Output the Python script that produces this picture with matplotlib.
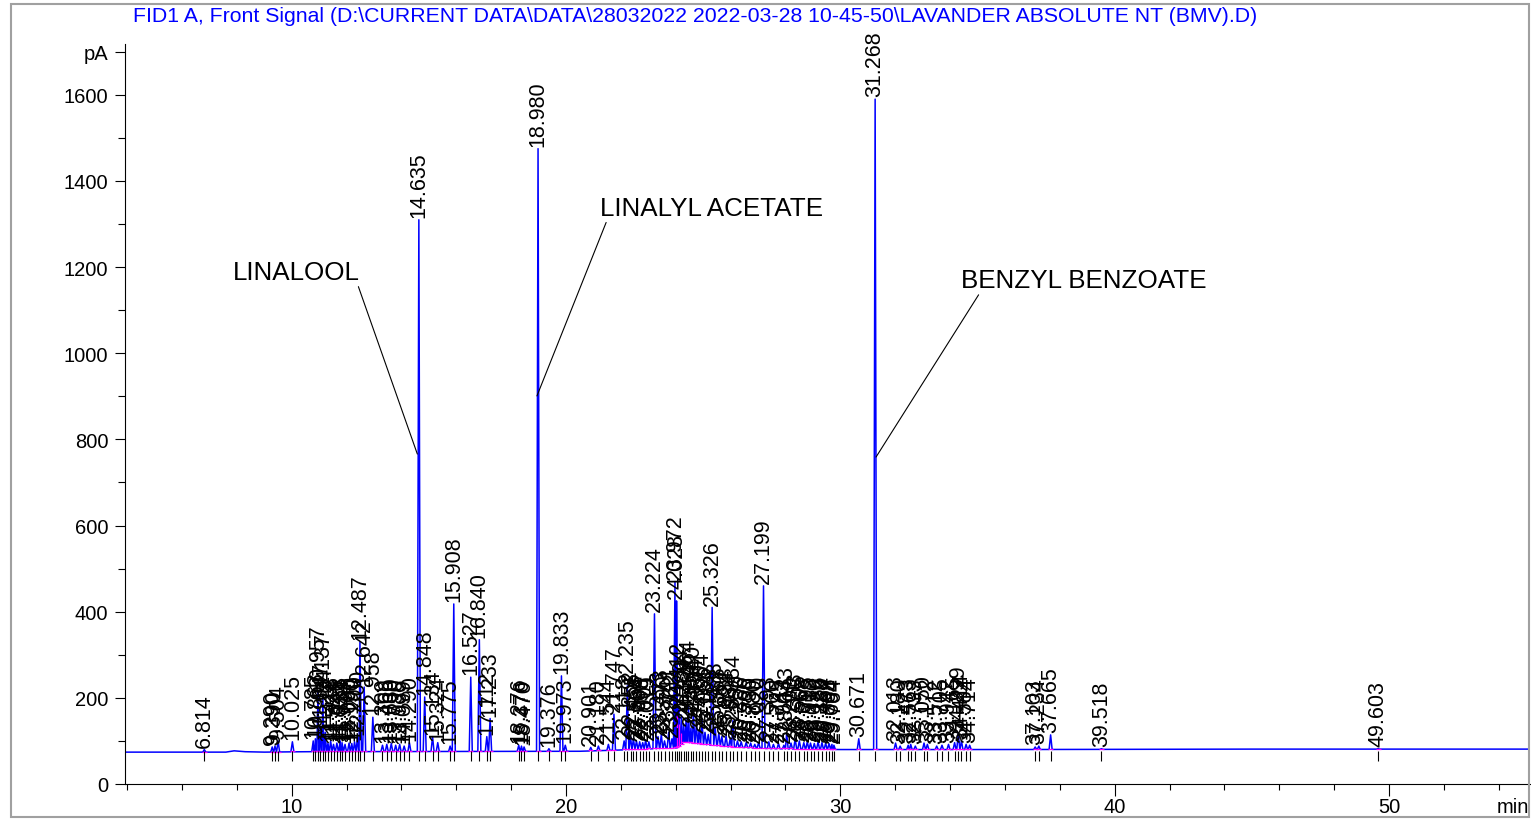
import matplotlib
matplotlib.use('Agg')
import matplotlib.pyplot as plt
from matplotlib.patches import Rectangle
from matplotlib.ticker import MultipleLocator
import numpy as np

plt.rcParams['font.family'] = ['Liberation Sans', 'DejaVu Sans']

title = ('FID1 A, Front Signal (D:\\CURRENT DATA\\DATA\\28032022 2022-03-28 '
         '10-45-50\\LAVANDER ABSOLUTE NT (BMV).D)')

# peak retention times (min) as printed, and apex heights (pA)
rt_labels = ['6.814', '9.290', '9.390', '9.504', '10.025',
             '10.785', '10.863', '10.957', '11.047', '11.137', '11.224', '11.322',
             '11.418', '11.524', '11.646', '11.768', '11.834', '11.944', '12.090',
             '12.190', '12.290', '12.400', '12.487', '12.642', '12.958',
             '13.309', '13.466', '13.630', '13.790', '13.935', '14.099', '14.290',
             '14.635', '14.848', '15.134', '15.324', '15.775', '15.908',
             '16.527', '16.840', '17.112', '17.233',
             '18.276', '18.376', '18.470', '18.980', '19.376', '19.833', '19.973',
             '20.901', '21.180', '21.544', '21.747', '22.118', '22.235', '22.352',
             '22.455', '22.568', '22.684', '22.795', '22.901', '23.019', '23.224',
             '23.353', '23.473', '23.590', '23.741', '23.862', '23.972', '24.028',
             '24.112', '24.204', '24.286', '24.376', '24.464', '24.554', '24.640',
             '24.754', '24.850', '24.954', '25.066', '25.184', '25.326', '25.438',
             '25.568', '25.680', '25.834', '25.984', '26.084', '26.250', '26.386',
             '26.566', '26.730', '26.880', '27.020', '27.199', '27.393', '27.560',
             '27.745', '27.943', '28.043', '28.200', '28.353', '28.505', '28.668',
             '28.795', '28.912', '29.050', '29.188', '29.330', '29.464', '29.588',
             '29.694', '29.764',
             '30.671', '31.268',
             '32.013', '32.180', '32.473', '32.563', '32.733', '33.050', '33.172',
             '33.512', '33.705', '33.942', '34.165', '34.299', '34.414', '34.584',
             '34.714',
             '37.103', '37.234', '37.665', '39.518', '49.603']
heights = [80, 86, 88, 100, 98,
           100, 105, 215, 130, 200, 120, 95,
           100, 92, 95, 100, 96, 92, 95,
           94, 98, 110, 330, 225, 155,
           90, 92, 94, 90, 92, 88, 96,
           1310, 202, 110, 96, 88, 418,
           248, 335, 110, 152,
           90, 88, 86, 1475, 82, 251, 90,
           85, 88, 92, 162, 100, 228, 110,
           105, 100, 98, 96, 102, 98, 395,
           110, 115, 100, 120, 105, 470, 425,
           180, 160, 140, 150, 182, 130, 167,
           140, 125, 151, 120, 115, 410, 130,
           118, 110, 112, 105, 147, 100, 98,
           96, 95, 92, 96, 460, 98, 92,
           94, 90, 118, 95, 105, 100, 96,
           98, 95, 94, 98, 96, 95, 94,
           92, 90,
           105, 1590,
           95, 88, 90, 92, 88, 95, 92,
           88, 90, 92, 96, 118, 100, 92,
           90,
           86, 88, 114, 82, 82]

# detector baseline (min, pA)
base_t = [3.9, 7.6, 7.9, 8.3, 9.0, 10.5, 20.5, 22.0, 24.05, 24.3, 25.0, 26.0,
          27.5, 30.0, 36.0, 45.0, 55.2]
base_v = [74, 74, 77, 75, 74, 75, 76, 79, 84, 98, 92, 86, 82, 80, 80, 81, 81]

# integration drop lines in the 24 min cluster
skim_t = [24.05, 24.12, 24.19]
skim_top = [160, 140, 118]

compounds = ['LINALOOL', 'LINALYL ACETATE', 'BENZYL BENZOATE']

rt = np.array([float(s) for s in rt_labels])
h = np.array(heights, dtype=float)
w = 0.055

def foot(t):
    return np.interp(t, base_t, base_v)

# trace vertices: baseline knots away from peaks, plus each peak spike
px = [t for t in base_t if np.min(np.abs(rt - t)) > w]
py = [foot(t) for t in px]
for t, v in zip(rt, h):
    px += [t - w, t, t + w]
    py += [foot(t - w), v, foot(t + w)]
order = np.argsort(px, kind='stable')
px = np.array(px)[order]
py = np.array(py)[order]

fig = plt.figure(figsize=(15.31, 8.2), dpi=100)
ax = fig.add_axes([125 / 1531, 35 / 820, 1405 / 1531, 740 / 820])

ax.plot(px, py, color='#0000ff', lw=1.1)
ax.hlines(foot(rt) + 1, rt - 0.09, rt + 0.09, color='#ff00ff', lw=0.9)
ax.vlines(skim_t, foot(np.array(skim_t)), skim_top, color='#ff00ff', lw=0.9)
ax.vlines(rt, 54, 76, color='black', lw=0.8)

for lab, t, v in zip(rt_labels, rt, h):
    ax.annotate(lab, xy=(t, v), xytext=(0, 2), textcoords='offset points',
                rotation=90, ha='center', va='bottom', fontsize=15.5)

# compound call-outs
ax.annotate(compounds[0], xy=(14.58, 766), xytext=(10.16, 1189),
            ha='center', va='center', fontsize=18.7,
            arrowprops=dict(arrowstyle='-', lw=0.8, color='black',
                            relpos=(0.98, 0.05), shrinkA=0, shrinkB=0))
ax.annotate(compounds[1], xy=(18.94, 901), xytext=(25.30, 1338),
            ha='center', va='center', fontsize=18.7,
            arrowprops=dict(arrowstyle='-', lw=0.8, color='black',
                            relpos=(0.035, 0.05), shrinkA=0, shrinkB=0))
ax.annotate(compounds[2], xy=(31.30, 759), xytext=(38.89, 1170),
            ha='center', va='center', fontsize=18.7,
            arrowprops=dict(arrowstyle='-', lw=0.8, color='black',
                            relpos=(0.08, 0.05), shrinkA=0, shrinkB=0))

ax.set_xlim(3.923, 55.14)
ax.set_ylim(0, 1718)
ax.set_xticks([10, 20, 30, 40, 50])
ax.xaxis.set_minor_locator(MultipleLocator(2))
ax.set_yticks([0, 200, 400, 600, 800, 1000, 1200, 1400, 1600, 1700])
ax.set_yticklabels(['0', '200', '400', '600', '800', '1000', '1200', '1400',
                    '1600', 'pA'])
ax.yaxis.set_minor_locator(MultipleLocator(100))
ax.tick_params(axis='x', which='major', length=8.5, width=0.8, pad=1, labelsize=14.5)
ax.tick_params(axis='x', which='minor', length=4.5, width=0.8)
ax.tick_params(axis='y', which='major', length=7, width=0.8, pad=5, labelsize=14.5)
ax.tick_params(axis='y', which='minor', length=5, width=0.8)
ax.text(55.1, -0.031, 'min', transform=ax.get_xaxis_transform(),
        ha='right', va='center', fontsize=14.5)

for s in ['top', 'right']:
    ax.spines[s].set_visible(False)
for s in ['left', 'bottom']:
    ax.spines[s].set_linewidth(0.8)

fig.text(133 / 1531, 1 - 17 / 820, title, color='#0000ff', fontsize=15.3,
         ha='left', va='center')

fig.patches.append(Rectangle((11 / 1531, 2 / 820), 1518 / 1531, 813 / 820,
                             fill=False, edgecolor='#a0a0a0', lw=1.5,
                             transform=fig.transFigure, figure=fig))

fig.savefig('out.png', dpi=100)
